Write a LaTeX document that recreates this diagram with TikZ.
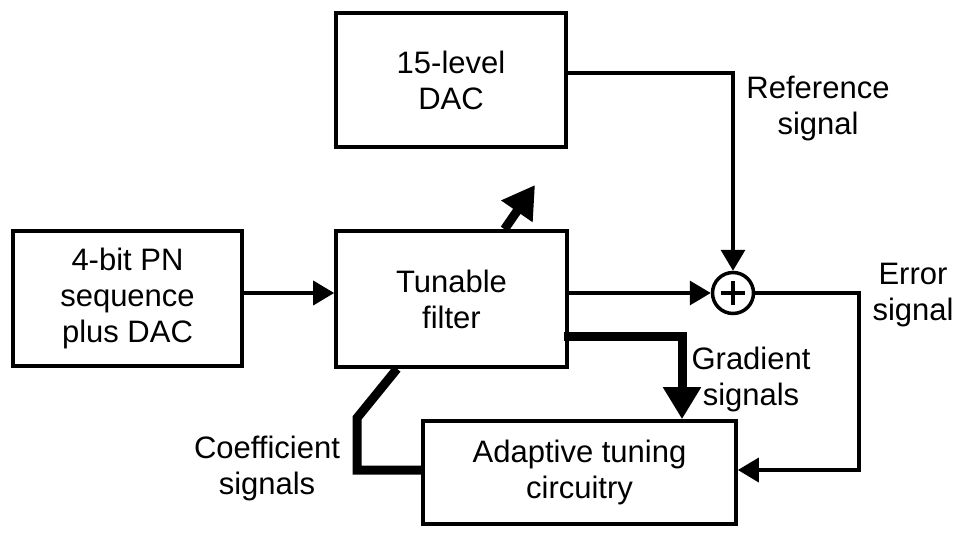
\documentclass[tikz,border=0pt]{standalone}
\usepackage{fontspec}
\setmainfont{Liberation Sans}
\usetikzlibrary{arrows.meta}
\begin{document}
\begin{tikzpicture}[x=1pt,y=-1pt,
  every node/.style={font=\fontsize{31}{36}\selectfont, inner sep=0pt},
  blk/.style={draw, line width=3.6pt, align=center},
  lbl/.style={align=center},
  thinw/.style={line width=3.5pt},
  thinarrow/.style={line width=3.5pt, -{Triangle[length=21pt,width=24pt]}},
  thickw/.style={line width=9pt, line join=miter},
  thickarrow/.style={line width=9pt, line join=miter, -{Triangle[length=32pt,width=36pt]}}
]
\useasboundingbox (0,0) rectangle (960,535);
\node[blk, minimum width=230pt, minimum height=134pt] (dac) at (451,80) {15-level\\DAC};
\node[blk, minimum width=229pt, minimum height=135pt] (pn) at (127.5,298.5) {4-bit PN\\sequence\\plus DAC};
\node[blk, minimum width=231pt, minimum height=136pt] (filt) at (451.5,299) {Tunable\\filter};
\node[blk, minimum width=313pt, minimum height=103pt] (ada) at (579.5,472.5) {Adaptive tuning\\circuitry};
\node[draw, circle, line width=3.5pt, minimum size=41pt] (sum) at (733,293) {};
\draw[line width=4pt] ([xshift=-12pt]sum.center) -- ([xshift=12pt]sum.center)
  ([yshift=-12pt]sum.center) -- ([yshift=12pt]sum.center);

\node[lbl] (lref) at (818,108) {Reference\\signal};
\node[lbl] (lerr) at (913,295) {Error\\signal};
\node[lbl] (lgrad) at (751,379) {Gradient\\signals};
\node[lbl] (lcoef) at (267,468) {Coefficient\\signals};

\coordinate (ec) at (859,470);
\coordinate (gc) at (682,336);
\coordinate (upt) at (535,185);
\coordinate (c1) at (357,470);
\coordinate (c2) at (357,418);

\draw[thinarrow] (sum.west -| pn.east) -- (sum.west -| filt.west);
\draw[thinarrow] (sum.west -| filt.east) -- (sum.west);
\draw[thinarrow] ([yshift=7pt]dac.east) -| (sum.north);
\draw[thinarrow] (sum.east) -| (ec) -- (ec -| ada.east);
\draw[thickarrow] (gc -| filt.east) ++(-5,0) -- (gc) -- (gc |- ada.north);
\draw[thickarrow] ([xshift=53pt]filt.north) -- (upt);
\draw[thickw] (c1 -| ada.west) -- (c1) -- (c2) -- ([xshift=-54.5pt]filt.south);
\end{tikzpicture}
\end{document}
